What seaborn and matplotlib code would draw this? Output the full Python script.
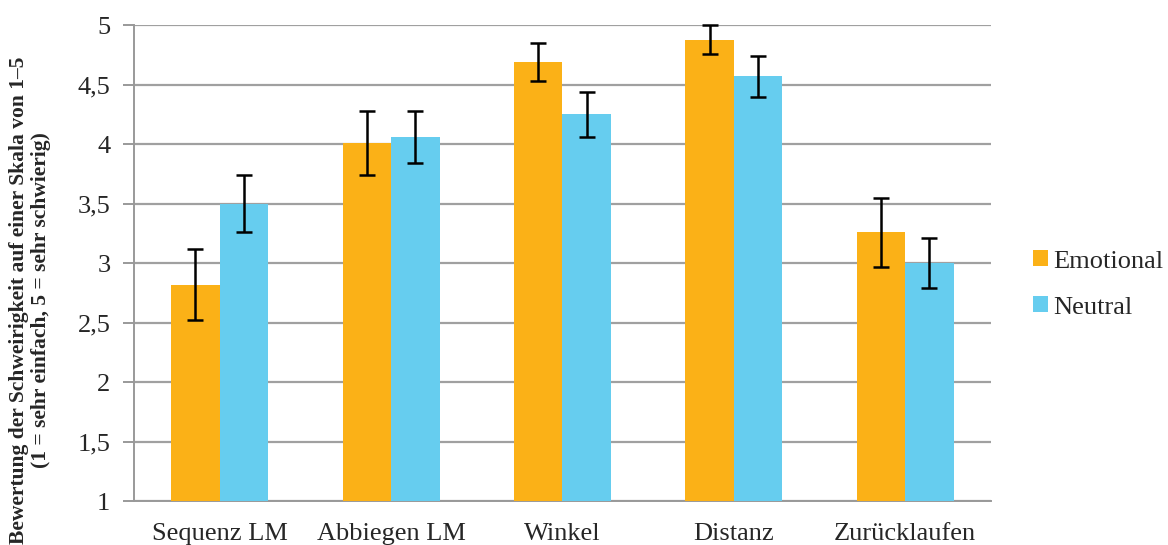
import pandas as pd
import numpy as np
import matplotlib.pyplot as plt
import seaborn as sns
from matplotlib.patches import Patch

categories = ['Sequenz LM', 'Abbiegen LM', 'Winkel', 'Distanz', 'Zurücklaufen']
emotional = [2.82, 4.01, 4.69, 4.88, 3.26]
neutral = [3.50, 4.06, 4.25, 4.57, 3.00]
emotional_err = [0.30, 0.27, 0.16, 0.12, 0.29]
neutral_err = [0.24, 0.22, 0.19, 0.17, 0.21]
y_ticks = [1, 1.5, 2, 2.5, 3, 3.5, 4, 4.5, 5]

df = pd.DataFrame({
    'Aufgabe': categories * 2,
    'Wert': emotional + neutral,
    'Bedingung': ['Emotional'] * 5 + ['Neutral'] * 5,
})

sns.set_style('white')
plt.rcParams['font.family'] = ['Liberation Serif', 'DejaVu Serif']

fig = plt.figure(figsize=(11.68, 5.45), dpi=100)
ax = fig.add_axes([0.1147, 0.0807, 0.7337, 0.873])

colors = {'Emotional': '#FBB117', 'Neutral': '#66CDEF'}
sns.barplot(data=df, x='Aufgabe', y='Wert', hue='Bedingung', palette=colors,
            width=0.566, errorbar=None, ax=ax, legend=False, zorder=3,
            saturation=1)

# error bars at bar centres
errs = emotional_err + neutral_err
vals = emotional + neutral
for p, v, e in zip(ax.patches[:10], vals, errs):
    p.set_edgecolor('none')
    xc = p.get_x() + p.get_width() / 2
    ax.errorbar(xc, v, yerr=e, color='black', capsize=5.5, capthick=1.8,
                elinewidth=1.8, zorder=4, clip_on=False)

ax.set_ylim(1, 5)
ax.set_yticks(y_ticks)
ax.set_yticklabels([f'{t:g}'.replace('.', ',') for t in y_ticks], fontsize=19)
ax.set_xlim(-0.5, 4.5)
ax.tick_params(axis='x', labelsize=19, length=0, pad=16)
ax.tick_params(axis='y', length=8, width=1.4, color='#999999', direction='out',
               left=True, pad=9)
ax.yaxis.grid(True, color='#a0a0a0', linewidth=1.6, zorder=0)
ax.set_axisbelow(True)
for s in ['top', 'right']:
    ax.spines[s].set_visible(False)
for s in ['left', 'bottom']:
    ax.spines[s].set_color('#999999')
    ax.spines[s].set_linewidth(1.4)
ax.set_xlabel('')
ax.set_ylabel('')
fig.text(30 / 1168, 1 - 300 / 545,
         'Bewertung der Schweirigkeit auf einer Skala von 1\u20135\n(1 = sehr einfach, 5 = sehr schwierig)',
         rotation=90, ha='center', va='center', fontsize=15.5, fontweight='bold',
         linespacing=1.1, multialignment='center')

handles = [Patch(facecolor=colors[k], edgecolor='none', label=k) for k in colors]
fig.legend(handles=handles, loc='center left', bbox_to_anchor=(0.8757, 0.478),
           frameon=False, fontsize=19, handlelength=0.55, handleheight=0.55,
           handletextpad=0.2, labelspacing=0.9, borderaxespad=0)

plt.savefig('out.png', dpi=100)
